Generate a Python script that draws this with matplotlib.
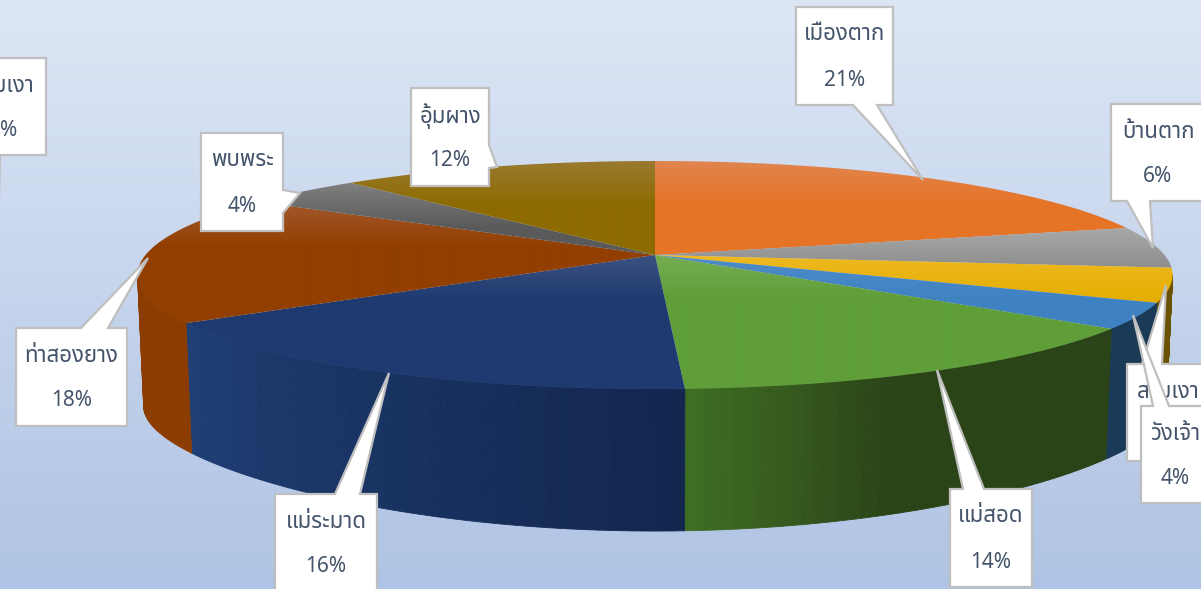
import numpy as np
import matplotlib
matplotlib.use("Agg")
import matplotlib.pyplot as plt
from matplotlib.collections import PolyCollection
from matplotlib.colors import to_rgb
from matplotlib.patches import Polygon
from matplotlib import font_manager as fm

# ---- data (shares, clockwise from 12 o'clock)
districts = ["เมืองตาก", "บ้านตาก", "สามเงา", "วังเจ้า", "แม่สอด", "แม่ระมาด", "ท่าสองยาง", "พบพระ", "อุ้มผาง"]
shares = [20.9, 5.9, 4.8, 3.6, 14.03, 16.37, 18.2, 4.4, 11.8]

# ---- style
top_light = ["#e08550", "#a8a8a8", "#eeb921", "#4d8cc8", "#74ad52", "#3d5282", "#a3582e", "#808080", "#997a30"]
top_base = ["#e67426", "#8a8a8a", "#e4ae00", "#3f82c2", "#5f9e38", "#1e3a70", "#923f00", "#5a5a5a", "#8d6b00"]
wall_start = ["#8c4a18", "#555555", "#6b5200", "#1b3a57", "#2a4317", "#12264e", "#8c3c00", "#444444", "#5c4500"]
wall_end = ["#8c4a18", "#555555", "#6b5200", "#1b3a57", "#3f6e23", "#1f3f75", "#8c3c00", "#444444", "#5c4500"]
wall_ramp_from = [0, 0, 0, 0, 0.6, 0, 0, 0, 0]
TEXT = "#44546a"
EDGE = "#bfbfbf"

names = {f.name for f in fm.fontManager.ttflist}
plt.rcParams["font.family"] = [n for n in ["Noto Sans Thai", "Loma", "Garuda", "Tahoma", "Liberation Sans", "DejaVu Sans"]
                               if n in names] or ["DejaVu Sans"]

fig = plt.figure(figsize=(12.01, 5.89), dpi=100)
ax = fig.add_axes([0, 0, 1, 1])
ax.axis("off")

# background gradient
c0, c1 = np.array(to_rgb("#dde6f5")), np.array(to_rgb("#afc3e4"))
t = np.linspace(0, 1, 589)[:, None, None]
ax.imshow(c0 * (1 - t) + c1 * t, extent=(0, 1201, 589, 0), aspect="auto", zorder=0)

# perspective projection of the disc
CX, CY = 655.0, 255.0
A, B, K = 509.5, 110.5, 0.1754


def top_xy(th):
    u, v = np.sin(th), np.cos(th)
    d = 1 + K * v
    return CX + A * u / d, CY - B * v / d


def bottom_xy(th):
    u, v = np.sin(th), np.cos(th)
    return CX + 0.988 * A * u / (1 + K * v), 389.5 - 92 * v / (1 + 0.35 * v)


edges = np.cumsum([0] + shares) / sum(shares) * 2 * np.pi

# side walls, only the part of the rim that faces the viewer
for i in range(len(shares)):
    th = np.linspace(edges[i], edges[i + 1], 60)
    xt, yt = top_xy(th)
    xb, yb = bottom_xy(th)
    a, b = np.array(to_rgb(wall_start[i])), np.array(to_rgb(wall_end[i]))
    f = np.linspace(0, 1, 59)
    s = np.clip((f - wall_ramp_from[i]) / (1 - wall_ramp_from[i]), 0, 1)[:, None]
    cols_all = a * (1 - s) + b * s
    keep = [j for j in range(59) if np.cos((th[j] + th[j + 1]) / 2) < -K]
    if not keep:
        continue
    quads = [[(xt[j], yt[j]), (xt[j + 1], yt[j + 1]), (xb[j + 1], yb[j + 1]), (xb[j], yb[j])] for j in keep]
    cols = cols_all[keep]
    ax.add_collection(PolyCollection(quads, facecolors=cols, edgecolors=cols, linewidths=0.6, zorder=2))

# top face, each slice with its own vertical gradient
for i in range(len(shares)):
    th = np.linspace(edges[i], edges[i + 1], 120)
    xt, yt = top_xy(th)
    pts = np.column_stack([np.r_[CX, xt], np.r_[CY, yt]])
    y0, y1 = pts[:, 1].min(), pts[:, 1].max()
    x0, x1 = pts[:, 0].min(), pts[:, 0].max()
    n = max(int(y1 - y0) + 1, 2)
    s = np.clip(np.arange(n) / 45.0, 0, 1)[:, None, None]
    img = np.array(to_rgb(top_light[i])) * (1 - s) + np.array(to_rgb(top_base[i])) * s
    poly = Polygon(pts, closed=True, facecolor="none", edgecolor="none", transform=ax.transData)
    ax.add_patch(poly)
    im = ax.imshow(img, extent=(x0, x1, y1, y0), aspect="auto", zorder=3, interpolation="bilinear")
    im.set_clip_path(poly)
ax.set_xlim(0, 1201)
ax.set_ylim(589, 0)


def callout(idx, box, ptr, side="top", z=5, cx=None):
    l, t_, r, b = box
    if side == "top":
        verts = [(l, t_), (ptr[0], t_), ptr[1], (ptr[2], t_), (r, t_), (r, b), (l, b)]
    elif side == "bottom":
        verts = [(l, t_), (r, t_), (r, b), (ptr[2], b), ptr[1], (ptr[0], b), (l, b)]
    else:
        verts = [(l, t_), (r, t_), (r, ptr[0]), ptr[1], (r, ptr[2]), (r, b), (l, b)]
    ax.add_patch(Polygon(verts, closed=True, facecolor="white", edgecolor=EDGE, linewidth=1.6,
                         joinstyle="miter", zorder=z, clip_on=True))
    mid = (l + r) / 2 if cx is None else cx
    ax.text(mid, t_ + 28, districts[idx], ha="center", va="center", fontsize=16, color=TEXT, zorder=z + 0.1, clip_on=True)
    ax.text(mid, t_ + 73, f"{round(shares[idx])}%", ha="center", va="center", fontsize=15, color=TEXT, zorder=z + 0.1, clip_on=True)


callout(0, (796, 7, 893, 105), (853, (923, 180), 877), "bottom")
callout(1, (1111, 104, 1205, 201), (1127, (1153, 248), 1150), "bottom")
callout(2, (1127, 364, 1240, 461), (1142, (1166, 285), 1162), "top", z=5, cx=1168)
callout(3, (1141, 406, 1235, 503), (1153, (1133, 315), 1169), "top", z=6, cx=1175)
callout(4, (950, 489, 1032, 587), (963, (937, 370), 984), "top")
callout(5, (275, 494, 377, 600), (335, (389, 373), 360), "top")
callout(6, (16, 328, 127, 426), (81, (148, 258), 108), "top")
callout(7, (201, 133, 283, 231), (190, (300, 193), 213), "right")
callout(8, (411, 88, 489, 186), (145, (497, 167), 168), "right")
# the same label wrapped round to the left edge of the picture
callout(2, (-60, 58, 46, 155), (-20, (-1, 200), 0), "bottom", cx=3)

fig.savefig("out.png", dpi=100)
